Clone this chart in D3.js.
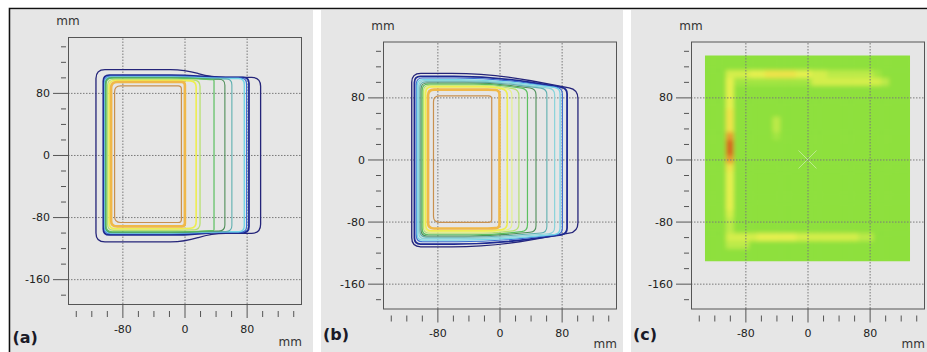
<!DOCTYPE html>
<html>
<head>
<meta charset="utf-8">
<script src="https://cdn.jsdelivr.net/npm/d3@7"></script>
<style>
  body { margin: 0; background: #fff; }
  svg { display: block; }
  text { font-family: "DejaVu Sans", Verdana, sans-serif; }
</style>
</head>
<body>
<div class="chart"></div>
<script>
// axes (mm)
var xDomain = [-150, 150]
var yDomain = [152, -192]
var xTicks = [-80, 0, 80]
var yTicks = [80, 0, -80, -160]
var xMinor = [-140, -120, -100, -60, -40, -20, 20, 40, 60, 100, 120, 140]
var yMinor = [140, 120, 100, 60, 40, 20, -20, -40, -60, -100, -120, -140, -180]
var panelLabels = ['(a)', '(b)', '(c)']

// isodose contours, outer to inner: [left, right, topLeft, topRight, bottomLeft, bottomRight]
var contoursA = [
  [-114, 98, 110, 100, -112, -101],
  [-104.5, 83, 103, 100, -103, -100],
  [-103, 80, 101.5, 99, -101.5, -99.5],
  [-102.5, 77, 100.5, 98.5, -100.5, -99],
  [-102, 61, 100, 98, -100, -98.5],
  [-101.5, 52, 99.5, 97.5, -99.5, -98],
  [-101, 38, 99, 97, -99, -97.5],
  [-99, 20, 97.5, 96, -97, -96],
  [-97, 15, 96, 95, -95, -94],
  [-94.5, 0.5, 94, 94, -92, -92],
  [-90, -4, 89, 89, -87, -87]
]
var contoursB = [
  [-113, 101, 111, 90, -112.5, -93],
  [-109.5, 87, 107, 92, -109, -96],
  [-107, 81, 105, 92, -106, -96],
  [-106, 78, 103, 92, -104, -96],
  [-104, 71, 101.5, 91, -102, -95],
  [-102.5, 61, 100, 91, -100, -94],
  [-101, 47, 98.5, 91, -98.5, -93],
  [-99.5, 36, 97, 91, -97, -92],
  [-98, 25, 95.5, 90, -95, -91],
  [-96.5, 16, 94.5, 90, -93.5, -90],
  [-95, 10, 93.5, 90, -92, -89.5],
  [-92, 0, 90, 89, -89, -88],
  [-85, -10, 82, 82, -81, -81]
]

// map (c): field edges and a 10 mm grid of levels, rows from y=130 down to y=-130, cols x=-130..130
var fieldX = [-132, 132]
var fieldY = [134, -131]
var gridStep = 10
var gridRows = [
  '000000000000000000000000000',
  '000000000000000000000000000',
  '000333445555443322222210000',
  '000411111111113333333332000',
  '000400000000000000000000000',
  '000400000000000000000000000',
  '000400000000000000000000000',
  '000500000000000000000000000',
  '000500000200000000000000000',
  '000500000200000000000000000',
  '000600000100000000000000000',
  '000700000000000000000000000',
  '000700000000000000000000000',
  '000600000000000000000000000',
  '000500000000000000000000000',
  '000400000000000000000000000',
  '000400000000000000000000000',
  '000400000000000000000000000',
  '000400000000000000000000000',
  '000400000000000000000000000',
  '000300000000000000000000000',
  '000200000000000000000000000',
  '000200000000000000000000000',
  '000333344444333333332200000',
  '000222000000000000000000000',
  '000000000000000000000000000',
  '000000000000000000000000000'
]

;(function () {
  var W = 927
  var H = 352
  var FRAME_W = 233
  var FRAME_H = 267

  var contourStyle = {
    a: [
      ['#25257a', 1.3], ['#1e2a92', 1.8], ['#3c6ed2', 1.2], ['#74d6e6', 1.4],
      ['#5fb0b0', 1.1], ['#4e8e58', 1.1], ['#5cc060', 1.2], ['#b8e070', 1.3],
      ['#eeee50', 1.6], ['#f0b848', 2.6], ['#c8904e', 1.2]
    ],
    b: [
      ['#25257a', 1.3], ['#1e2a92', 1.8], ['#3c6ed2', 1.2], ['#74d6e6', 1.3],
      ['#8ad4da', 1.2], ['#5fb0b0', 1.1], ['#4e8e58', 1.1], ['#5cc060', 1.2],
      ['#b8e070', 1.2], ['#e6f090', 1.2], ['#eeee50', 1.6], ['#f0b848', 2.6],
      ['#c8904e', 1.2]
    ]
  }

  var panels = [
    { bg: [10.5, 313], left: 68, top: 37, contours: contoursA, style: contourStyle.a, slope: [0, 35], bend: 14, labelY: 343, mmY: 346 },
    { bg: [321, 623], left: 383, top: 41.5, contours: contoursB, style: contourStyle.b, slope: [-10, null], bend: 40, labelY: 340, mmY: 348 },
    { bg: [631, 927], left: 691, top: 41.5, heat: true, labelY: 340, mmY: 348 }
  ]

  var svg = d3.select('.chart').append('svg')
    .attr('width', W)
    .attr('height', H)

  svg.append('rect').attr('width', W).attr('height', H).attr('fill', '#fff')

  var heatColor = d3.scaleLinear()
    .domain([0, 1, 2, 3, 4, 5, 6, 7])
    .range(['#8ee03c', '#a2e543', '#bcea48', '#d4ee4c', '#e6f050', '#eee34a', '#e89a30', '#d8641c'])

  var defs = svg.append('defs')
  defs.append('filter').attr('id', 'soft')
    .attr('x', '-10%').attr('y', '-10%').attr('width', '120%').attr('height', '120%')
    .append('feGaussianBlur').attr('stdDeviation', 2.2)

  panels.forEach(function (p, i) {
    var g = svg.append('g')
    var x = d3.scaleLinear().domain(xDomain).range([p.left, p.left + FRAME_W])
    var y = d3.scaleLinear().domain(yDomain).range([p.top, p.top + FRAME_H])
    var bottom = p.top + FRAME_H
    var right = p.left + FRAME_W

    g.append('rect')
      .attr('x', p.bg[0]).attr('y', 10)
      .attr('width', p.bg[1] - p.bg[0]).attr('height', H - 10)
      .attr('fill', '#e6e6e6')

    // heat map
    if (p.heat) {
      var clipId = 'field' + i
      defs.append('clipPath').attr('id', clipId)
        .append('rect')
        .attr('x', x(fieldX[0])).attr('y', y(fieldY[0]))
        .attr('width', x(fieldX[1]) - x(fieldX[0]))
        .attr('height', y(fieldY[1]) - y(fieldY[0]))

      var hg = g.append('g').attr('clip-path', 'url(#' + clipId + ')')
      hg.append('rect')
        .attr('x', x(fieldX[0])).attr('y', y(fieldY[0]))
        .attr('width', x(fieldX[1]) - x(fieldX[0]))
        .attr('height', y(fieldY[1]) - y(fieldY[0]))
        .attr('fill', heatColor(0))

      var cells = []
      gridRows.forEach(function (row, r) {
        row.split('').forEach(function (v, c) {
          cells.push({ x: -130 + c * gridStep, y: 130 - r * gridStep, v: +v })
        })
      })
      hg.append('g').attr('filter', 'url(#soft)')
        .selectAll('rect').data(cells).enter().append('rect')
        .attr('x', function (d) { return x(d.x - gridStep / 2) })
        .attr('y', function (d) { return y(d.y + gridStep / 2) })
        .attr('width', x(gridStep) - x(0) + 0.5)
        .attr('height', y(0) - y(gridStep) + 0.5)
        .attr('fill', function (d) { return heatColor(d.v) })

      // faint cross at isocentre
      var cx = x(0)
      var cy = y(0)
      g.append('path')
        .attr('d', 'M' + (cx - 9) + ',' + (cy - 9) + 'L' + (cx + 9) + ',' + (cy + 9) +
          'M' + (cx - 9) + ',' + (cy + 9) + 'L' + (cx + 9) + ',' + (cy - 9))
        .attr('stroke', '#d8f0c0').attr('stroke-width', 0.8).attr('opacity', 0.8)
    }

    // grid
    g.append('g')
      .attr('transform', 'translate(0,' + bottom + ')')
      .call(d3.axisBottom(x).tickValues(xTicks).tickSize(-FRAME_H).tickFormat(''))
      .call(gridStyle)
    g.append('g')
      .attr('transform', 'translate(' + p.left + ',0)')
      .call(d3.axisLeft(y).tickValues(yTicks).tickSize(-FRAME_W).tickFormat(''))
      .call(gridStyle)

    // contours
    if (p.contours) {
      var cg = g.append('g').attr('fill', 'none').attr('stroke-linejoin', 'round')
      p.contours.forEach(function (c, k) {
        cg.append('path')
          .attr('d', contourPath(c, p.slope, x, y, k === 0 ? 9 : 6, p.bend))
          .attr('stroke', p.style[k][0])
          .attr('stroke-width', p.style[k][1])
      })
    }

    // frame
    g.append('rect')
      .attr('x', p.left + 0.5).attr('y', p.top + 0.5)
      .attr('width', FRAME_W).attr('height', FRAME_H)
      .attr('fill', 'none').attr('stroke', '#555').attr('stroke-width', 1)

    // axes
    g.append('g')
      .attr('transform', 'translate(' + (p.left - 2) + ',0)')
      .call(d3.axisLeft(y).tickValues(yMinor).tickSize(5).tickFormat(''))
      .call(axisStyle)
    g.append('g')
      .attr('transform', 'translate(' + p.left + ',0)')
      .call(d3.axisLeft(y).tickValues(yTicks).tickSize(15).tickPadding(3).tickFormat(String))
      .call(axisStyle)
    g.append('g')
      .attr('transform', 'translate(0,' + (bottom + 7) + ')')
      .call(d3.axisBottom(x).tickValues(xMinor).tickSize(6).tickFormat(''))
      .call(axisStyle)
    g.append('g')
      .attr('transform', 'translate(0,' + bottom + ')')
      .call(d3.axisBottom(x).tickValues(xTicks).tickSize(14).tickPadding(7).tickFormat(String))
      .call(axisStyle)

    g.append('text')
      .attr('x', p.left).attr('y', p.top - 12)
      .attr('text-anchor', 'middle')
      .attr('font-size', 12).attr('fill', '#333')
      .text('mm')
    g.append('text')
      .attr('x', right + 1).attr('y', p.mmY)
      .attr('text-anchor', 'end')
      .attr('font-size', 12).attr('fill', '#333')
      .text('mm')

    g.append('text')
      .attr('x', p.bg[0] + 2).attr('y', p.labelY)
      .attr('font-family', '"Open Sans", sans-serif')
      .attr('font-weight', 'bold')
      .attr('font-size', 16).attr('fill', '#1a1a28')
      .text(panelLabels[i])
  })

  // outer black border
  svg.append('path')
    .attr('d', 'M9.5,' + H + 'V8.5H' + W)
    .attr('fill', 'none').attr('stroke', '#111').attr('stroke-width', 1.6)

  function gridStyle (sel) {
    sel.select('.domain').remove()
    sel.selectAll('line')
      .attr('stroke', '#7a7a7a')
      .attr('stroke-width', 1)
      .attr('stroke-dasharray', '1.5,1.5')
  }

  function axisStyle (sel) {
    sel.select('.domain').remove()
    sel.selectAll('line').attr('stroke', '#555')
    sel.selectAll('text')
      .attr('font-family', '"DejaVu Sans", Verdana, sans-serif')
      .attr('font-size', 11)
      .attr('fill', '#222')
  }

  // rounded outline: small radius at corners, wide bend where the top/bottom edges change level
  function contourPath (c, slope, x, y, radius, bend) {
    var x0 = c[0], x1 = c[1], t0 = c[2], t1 = c[3], b0 = c[4], b1 = c[5]
    var s0 = Math.min(slope[0], x1 - 8)
    var s1 = slope[1] === null ? x1 : Math.min(slope[1], x1)
    var pts = [[x0, b0, 0], [x0, t0, 0], [s0, t0, 1], [s1, t1, s1 === x1 ? 0 : 1], [x1, t1, 0], [x1, b1, 0], [s1, b1, s1 === x1 ? 0 : 1], [s0, b0, 1]]
      .map(function (d) { return [x(d[0]), y(d[1]), d[2]] })
    pts = pts.filter(function (d, k) {
      var n = pts[(k + 1) % pts.length]
      return Math.abs(d[0] - n[0]) + Math.abs(d[1] - n[1]) > 0.5
    })
    var n = pts.length
    var path = d3.path()
    var corners = pts.map(function (v, k) {
      var a = pts[(k - 1 + n) % n]
      var b = pts[(k + 1) % n]
      var la = Math.hypot(a[0] - v[0], a[1] - v[1])
      var lb = Math.hypot(b[0] - v[0], b[1] - v[1])
      var r = Math.min(v[2] ? bend : radius, la / 2, lb / 2)
      return {
        v: v,
        a: [v[0] + (a[0] - v[0]) * r / la, v[1] + (a[1] - v[1]) * r / la],
        b: [v[0] + (b[0] - v[0]) * r / lb, v[1] + (b[1] - v[1]) * r / lb]
      }
    })
    corners.forEach(function (cn, k) {
      if (k === 0) path.moveTo(cn.a[0], cn.a[1])
      else path.lineTo(cn.a[0], cn.a[1])
      path.quadraticCurveTo(cn.v[0], cn.v[1], cn.b[0], cn.b[1])
    })
    path.closePath()
    return path.toString()
  }
})()
</script>
</body>
</html>
